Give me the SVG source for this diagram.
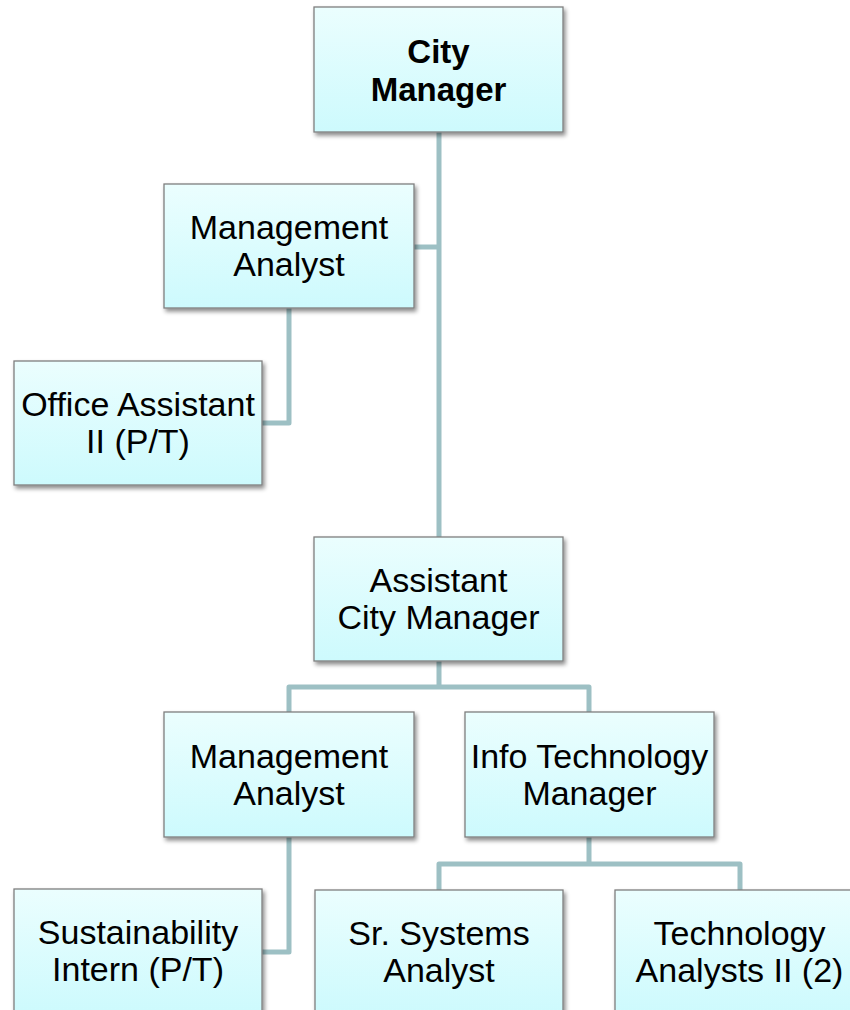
<svg xmlns="http://www.w3.org/2000/svg" width="850" height="1010" viewBox="0 0 850 1010">
<defs>
<linearGradient id="fill" x1="0" y1="0" x2="0" y2="1">
<stop offset="0" stop-color="#ebfefe"/>
<stop offset="1" stop-color="#cdfafd"/>
</linearGradient>
<filter id="sh" x="-10%" y="-10%" width="125%" height="130%">
<feDropShadow dx="2" dy="3" stdDeviation="2" flood-color="#000" flood-opacity="0.45"/>
</filter>
</defs>
<style>
.box{fill:url(#fill);stroke:#7f7f7f;stroke-width:1.3;filter:url(#sh)}
.t{font-family:"Liberation Sans",Arial,sans-serif;font-size:34px;fill:#000;text-anchor:middle}
.b{font-weight:bold;font-size:33px}
.c{fill:none;stroke:#9dc0c4;stroke-width:5;stroke-linejoin:round}
</style>
<rect width="850" height="1010" fill="#fff"/>
<g id="connectors">
<path class="c" d="M439 132V537"/>
<path class="c" d="M414 247H439"/>
<path class="c" d="M289 308V423H262"/>
<path class="c" d="M439 661V687M289 712V687H589V712"/>
<path class="c" d="M289 837V952H262"/>
<path class="c" d="M589 837V864M439 890V864H740V890"/>
</g>
<g id="city-manager">
<rect class="box" x="314" y="7" width="249" height="125"/>
<text class="t b" x="438.5" y="63">City</text>
<text class="t b" x="438.5" y="101">Manager</text>
</g>
<g id="management-analyst-1">
<rect class="box" x="164" y="184" width="250" height="124"/>
<text class="t" x="289" y="239">Management</text>
<text class="t" x="289" y="276">Analyst</text>
</g>
<g id="office-assistant">
<rect class="box" x="14" y="361" width="248" height="124"/>
<text class="t" x="138" y="416">Office Assistant</text>
<text class="t" x="138" y="453">II (P/T)</text>
</g>
<g id="assistant-city-manager">
<rect class="box" x="314" y="537" width="249" height="124"/>
<text class="t" x="438.5" y="592">Assistant</text>
<text class="t" x="438.5" y="629">City Manager</text>
</g>
<g id="management-analyst-2">
<rect class="box" x="164" y="712" width="250" height="125"/>
<text class="t" x="289" y="768">Management</text>
<text class="t" x="289" y="805">Analyst</text>
</g>
<g id="it-manager">
<rect class="box" x="465" y="712" width="249" height="125"/>
<text class="t" x="589.5" y="768">Info Technology</text>
<text class="t" x="589.5" y="805">Manager</text>
</g>
<g id="sustainability-intern">
<rect class="box" x="14" y="889" width="248" height="124"/>
<text class="t" x="138" y="944">Sustainability</text>
<text class="t" x="138" y="981">Intern (P/T)</text>
</g>
<g id="sr-systems-analyst">
<rect class="box" x="315" y="890" width="248" height="124"/>
<text class="t" x="439" y="945">Sr. Systems</text>
<text class="t" x="439" y="982">Analyst</text>
</g>
<g id="technology-analysts">
<rect class="box" x="615" y="890" width="249" height="124"/>
<text class="t" x="739.5" y="945">Technology</text>
<text class="t" x="739.5" y="982">Analysts II (2)</text>
</g>
</svg>
